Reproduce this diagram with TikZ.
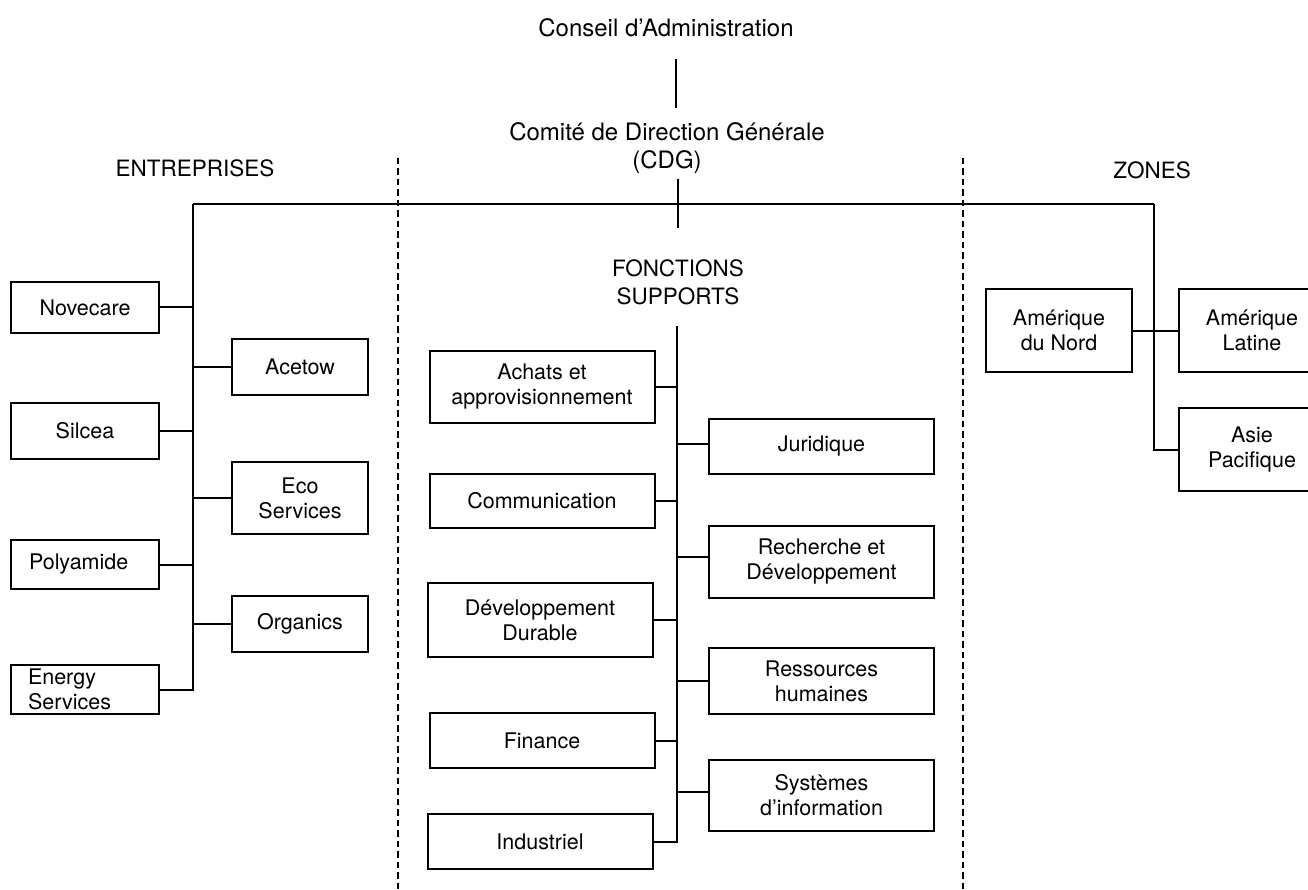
\documentclass[tikz,border=0pt]{standalone}
\usepackage{fontspec}
\setmainfont{TeX Gyre Heros}
\begin{document}
\begin{tikzpicture}[x=1pt,y=-1pt,
  box/.style={draw, line width=2pt, inner sep=0pt, align=center, font=\fontsize{21.5}{25}\selectfont},
  lbox/.style={box, minimum width=148pt},
  mbox/.style={box, minimum width=136pt},
  cbox/.style={box, minimum width=225pt},
  zbox/.style={box, minimum width=146pt, minimum height=83pt},
  ln/.style={line width=2pt},
  sep/.style={line width=1.2pt, dash pattern=on 6.5pt off 4pt},
  ttl/.style={font=\fontsize{24}{28}\selectfont, align=center, inner sep=0pt},
  head/.style={font=\fontsize{22.5}{28}\selectfont, align=center, inner sep=0pt}]
\useasboundingbox (0,0) rectangle (1308,890);
\fill[white] (0,0) rectangle (1308,890);

% separators
\coordinate (s1t) at (398,158); \coordinate (s1b) at (398,890);
\coordinate (s2t) at (963,158); \coordinate (s2b) at (963,890);
\draw[sep] (s1t) -- (s1b);
\draw[sep] (s2t) -- (s2b);

% top
\node[ttl] (ca) at (666,28) {Conseil d’Administration};
\node[ttl] (cdg) at (667,148) {Comité de Direction Générale\\(CDG)};
\coordinate (a1) at (676,59); \coordinate (a2) at (676,108);
\draw[ln] (a1) -- (a2);
\coordinate (g1) at (678,179); \coordinate (g2) at (678,228);
\draw[ln] (g1) -- (g2);

\node[head] (ent) at (195,168) {ENTREPRISES};
\node[head] (zon) at (1152,170) {ZONES};
\node[head] (fs) at (678,282) {FONCTIONS\\SUPPORTS};

% trunks
\coordinate (lt) at (193,204);
\coordinate (rt) at (1154,204);
\draw[ln] (lt) -- (rt);

% entreprises
\node[lbox, minimum height=51pt] (nov) at (85,307.5) {Novecare};
\node[lbox, minimum height=56pt] (sil) at (85,431) {Silcea};
\node[lbox, minimum height=49pt, text width=112pt, align=left] (pol) at (85,564.5) {Polyamide};
\node[lbox, minimum height=49pt, text width=114pt, align=left] (ene) at (85,689.5) {Energy\\Services};
\node[mbox, minimum height=56pt] (ace) at (300,367) {Acetow};
\node[mbox, minimum height=72pt] (eco) at (300,498) {Eco\\Services};
\node[mbox, minimum height=56pt] (org) at (300,624) {Organics};

\draw[ln] (ene.east) -| (lt);
\foreach \n in {nov,sil,pol}{\draw[ln] (\n.east) -- (\n.east -| lt);}
\foreach \n in {ace,eco,org}{\draw[ln] (\n.west) -- (\n.west -| lt);}

% fonctions supports
\coordinate (ct) at (677,326);
\coordinate (cb) at (677,843);
\draw[ln] (ct) -- (cb);
\node[cbox, minimum height=72pt] (ach) at (542,387) {Achats et\\approvisionnement};
\node[cbox, minimum height=54pt] (com) at (542,501) {Communication};
\node[cbox, minimum height=74pt] (dd) at (540,620) {Développement\\Durable};
\node[cbox, minimum height=55pt] (fin) at (542,740.5) {Finance};
\node[cbox, minimum height=55pt] (ind) at (540,841.5) {Industriel};
\node[cbox, minimum height=55pt] (jur) at (821.5,446.5) {Juridique};
\node[cbox, minimum height=72pt] (rec) at (821.5,562) {Recherche et\\Développement};
\node[cbox, minimum height=66pt] (res) at (821.5,681) {Ressources\\humaines};
\node[cbox, minimum height=71pt] (sys) at (821.5,795.5) {Systèmes\\d’information};
\foreach \n in {ach,com,dd,fin,ind}{\draw[ln] (\n.east) -- (\n.east -| ct);}
\draw[ln] ([yshift=2.5pt]jur.west) -- ([yshift=2.5pt]jur.west -| ct);
\draw[ln] ([yshift=5pt]rec.west) -- ([yshift=5pt]rec.west -| ct);
\draw[ln] (res.west) -- (res.west -| ct);
\draw[ln] ([yshift=3.5pt]sys.west) -- ([yshift=3.5pt]sys.west -| ct);

% zones
\node[zbox] (an) at (1059,330.5) {Amérique\\du Nord};
\node[zbox] (al) at (1252,330.5) {Amérique\\Latine};
\node[zbox] (ap) at (1252,449.5) {Asie\\Pacifique};
\draw[ln] (an.east) -- (al.west);
\draw[ln] (rt) |- (ap.west);
\end{tikzpicture}
\end{document}
